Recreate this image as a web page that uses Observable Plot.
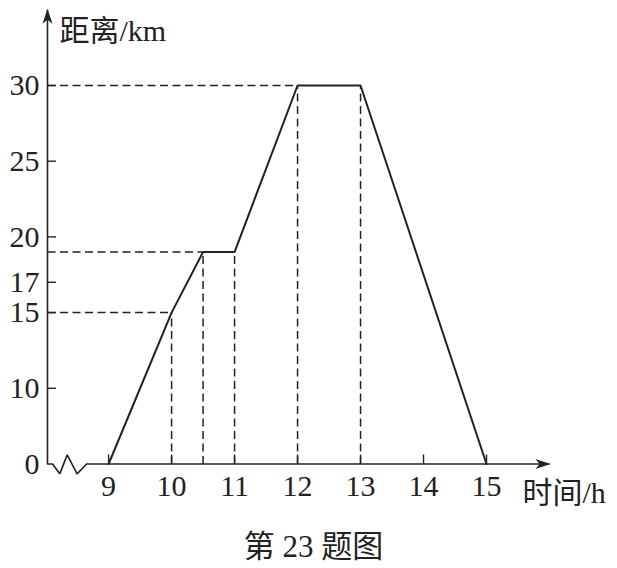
<!DOCTYPE html>
<html>
<head>
<meta charset="utf-8">
<script src="https://cdn.jsdelivr.net/npm/d3@7"></script>
<script src="https://cdn.jsdelivr.net/npm/@observablehq/plot@0.6"></script>
<style>
  html, body { margin: 0; padding: 0; background: #fff; }
  #wrap { width: 617px; height: 520px; }
  #caption { width: 617px; height: 48px; text-align: center; font-family: "Liberation Serif", "Noto Sans CJK SC", serif; font-size: 31px; color: #222; line-height: 54px; padding-left: 10px; box-sizing: border-box; white-space: pre; }
</style>
</head>
<body>
<div id="wrap"></div>
<div id="caption">第 23 题图</div>
<script>
// ---- data ----
const hours    = [9, 10, 10.5, 11, 12, 13, 15];     // 时间 (h)
const distance = [0, 15, 19, 19, 30, 30, 0];        // 距离 (km)
const yTicks = [0, 10, 15, 17, 20, 25, 30];
const xTicks = [9, 10, 11, 12, 13, 14, 15];
const vGuideIdx = [1, 2, 3, 4, 5];   // vertices with vertical dashed guides
const hGuideIdx = [1, 2, 4];         // vertices with horizontal dashed guides
const xOrigin = 8.03, xEnd = 16, yTop = 35;
const breakHours = [8.03, 8.11, 8.225, 8.343, 8.50, 8.65];
const breakKm    = [0, 0, -1.3, 1.2, -1.3, 0];
const yTitle = "距离/km", xTitle = "时间/h";

// the drawing squeezes 0–10 km into the same height as 10–15 km
const squeeze = v => (v < 10 ? v / 2 : v - 5);

const points = hours.map((h, i) => ({h, d: distance[i]}));
const vGuides = vGuideIdx.map(i => points[i]);
const hGuides = hGuideIdx.map(i => points[i]);
const zigzag = breakHours.map((h, i) => ({h, d: breakKm[i]}));

const ink = "#222";
const font = "'Liberation Serif', 'Noto Sans CJK SC', serif";

const chart = Plot.plot({
  width: 617,
  height: 520,
  marginLeft: 47,
  marginRight: 68,
  marginTop: 9.3,
  marginBottom: 56.5,
  style: {background: "#fff", fontFamily: font, color: ink},
  x: {domain: [xOrigin, xEnd], axis: null},
  y: {transform: squeeze, domain: [squeeze(0), squeeze(yTop)], axis: null},
  marks: [
    // dashed guides
    Plot.link(hGuides, {x1: xOrigin, y1: "d", x2: "h", y2: "d", stroke: ink, strokeWidth: 1.5, strokeDasharray: "8,4.5"}),
    Plot.link(vGuides, {x1: "h", y1: 0, x2: "h", y2: "d", stroke: ink, strokeWidth: 1.5, strokeDasharray: "8,4.5"}),
    // axes
    Plot.line(zigzag, {x: "h", y: "d", stroke: ink, strokeWidth: 1.6, strokeLinejoin: "miter"}),
    Plot.link([{}], {x1: breakHours[breakHours.length - 1], y1: 0, x2: xEnd, y2: 0, stroke: ink, strokeWidth: 1.6, markerEnd: "arrow"}),
    Plot.link([{}], {x1: xOrigin, y1: 0, x2: xOrigin, y2: yTop, stroke: ink, strokeWidth: 1.6, markerEnd: "arrow"}),
    // ticks (inward)
    Plot.ruleY(yTicks.filter(v => v !== 0), {y: d => d, x1: xOrigin, x2: xOrigin, insetRight: -9, stroke: ink, strokeWidth: 1.4}),
    Plot.ruleX(xTicks, {x: d => d, y1: 0, y2: 0, insetTop: -9, stroke: ink, strokeWidth: 1.4}),
    // tick labels
    Plot.text(yTicks, {x: xOrigin, y: d => d, text: d => String(d), textAnchor: "end", dx: -8, fontSize: 30, fill: ink}),
    Plot.text(xTicks, {x: d => d, y: 0, text: d => String(d), dy: 22, fontSize: 30, fill: ink}),
    // axis titles
    Plot.text([yTitle], {x: xOrigin, y: yTop, text: d => d, textAnchor: "start", dx: 12, dy: 22, fontSize: 30, fill: ink}),
    Plot.text([xTitle], {x: xEnd, y: 0, text: d => d, textAnchor: "start", dx: -27, dy: 29, fontSize: 30, fill: ink}),
    // the graph
    Plot.line(points, {x: "h", y: "d", stroke: ink, strokeWidth: 2, strokeLinejoin: "miter"})
  ]
});

// restyle the library's arrow markers as solid arrowheads like the textbook figure
d3.select(chart).selectAll("marker").each(function () {
  const m = d3.select(this);
  m.attr("viewBox", "-15 -7 17 14")
   .attr("markerWidth", 17).attr("markerHeight", 14)
   .attr("markerUnits", "userSpaceOnUse")
   .attr("orient", "auto")
   .attr("refX", 0).attr("refY", 0)
   .attr("fill", ink).attr("stroke", "none");
  m.selectAll("*").remove();
  m.append("path").attr("d", "M1,0L-14,-5L-10,0L-14,5Z").attr("fill", ink).attr("stroke", "none");
});

document.getElementById("wrap").appendChild(chart);
</script>
</body>
</html>
